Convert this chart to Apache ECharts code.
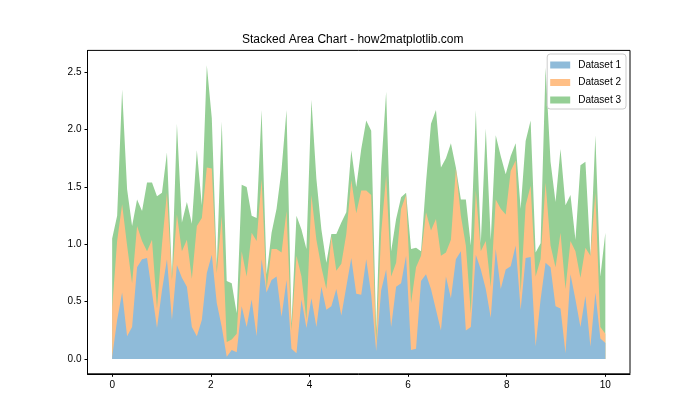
<!DOCTYPE html>
<html>
<head>
    <meta charset="utf-8">
    <title>Stacked Area Chart</title>
    <script src="https://cdn.jsdelivr.net/npm/echarts@6/dist/echarts.min.js"></script>
    <style>
        html, body { margin: 0; padding: 0; background: #fff; }
    </style>
</head>
<body>
    <div id="main" style="width:700px;height:420px"></div>
    <script type="text/javascript">
// x: 100 samples on 0..10 (np.linspace)
var xValues = Array.from({ length: 100 }, function (_, i) { return i * 10 / 99; });

var dataset1 = [
    0.02, 0.34, 0.58, 0.20, 0.28, 0.80, 0.87, 0.88, 0.58, 0.27,
    0.60, 0.87, 0.34, 0.82, 0.71, 0.63, 0.28, 0.20, 0.34, 0.75,
    0.91, 0.49, 0.28, 0.02, 0.08, 0.06, 0.46, 0.28, 0.52, 0.20,
    0.87, 0.58, 0.69, 0.72, 0.37, 0.69, 0.09, 0.05, 0.52, 0.27,
    0.53, 0.28, 0.63, 0.43, 0.46, 0.61, 0.38, 0.63, 0.88, 0.57,
    0.56, 0.87, 0.56, 0.07, 0.60, 0.78, 0.28, 0.63, 0.66, 0.90,
    0.08, 0.09, 0.68, 0.74, 0.61, 0.43, 0.25, 0.72, 0.53, 0.87,
    0.94, 0.25, 0.28, 0.91, 0.78, 0.61, 0.36, 0.96, 0.61, 0.78,
    0.81, 0.99, 0.43, 0.88, 0.89, 0.11, 0.52, 0.84, 0.80, 0.46,
    0.44, 0.05, 0.74, 0.52, 0.28, 0.55, 0.11, 0.58, 0.18, 0.14
];
var dataset2 = [
    0.43, 0.69, 0.77, 0.79, 0.38, 0.36, 0.16, 0.06, 0.46, 0.17,
    0.40, 0.58, 0.35, 0.44, 0.23, 0.41, 0.42, 0.96, 0.89, 0.92,
    0.75, 0.26, 0.97, 0.13, 0.09, 0.16, 0.48, 0.44, 0.58, 0.83,
    0.70, 0.03, 0.27, 0.24, 0.56, 0.60, 0.16, 0.85, 0.20, 0.07,
    0.90, 0.76, 0.17, 0.18, 0.61, 0.16, 0.45, 0.46, 0.68, 0.70,
    0.91, 0.60, 0.87, 0.07, 0.50, 0.82, 0.44, 0.21, 0.65, 0.53,
    0.41, 0.71, 0.22, 0.54, 0.51, 0.79, 0.65, 0.21, 0.51, 0.79,
    0.31, 0.74, 0.12, 0.56, 0.16, 0.42, 0.27, 0.43, 0.70, 0.48,
    0.83, 0.74, 0.15, 0.46, 0.62, 0.61, 0.35, 0.70, 0.19, 0.34,
    0.66, 0.56, 0.29, 0.42, 0.43, 0.42, 0.79, 0.87, 0.10, 0.08
];
var dataset3 = [
    0.60, 0.22, 1.00, 0.49, 0.50, 0.23, 0.26, 0.60, 0.50, 0.98,
    0.45, 0.35, 0.03, 0.79, 0.25, 0.33, 0.48, 0.66, 0.11, 0.89,
    0.44, 0.06, 0.82, 0.53, 0.49, 0.18, 0.58, 0.78, 0.15, 0.20,
    0.60, 0.13, 0.14, 0.35, 0.72, 0.88, 0.06, 0.35, 0.41, 0.62,
    0.83, 0.53, 0.33, 0.23, 0.02, 0.32, 0.36, 0.19, 0.26, 0.23,
    0.36, 0.61, 0.56, 0.11, 0.56, 0.73, 0.22, 0.38, 0.10, 0.02,
    0.47, 0.17, 0.04, 0.26, 0.93, 0.95, 0.77, 0.82, 0.84, 0.01,
    0.14, 0.40, 0.59, 0.70, 0.07, 0.98, 0.41, 0.56, 0.46, 0.35,
    0.13, 0.15, 0.73, 0.56, 0.57, 0.21, 0.14, 1.00, 0.73, 0.57,
    0.73, 0.73, 0.40, 0.10, 0.98, 0.75, 0.00, 0.50, 0.44, 0.88
];

var seriesNames = ['Dataset 1', 'Dataset 2', 'Dataset 3'];
var xTicks = [0, 2, 4, 6, 8, 10];
var yTicks = [0, 0.5, 1.0, 1.5, 2.0, 2.5];

// tab10 colours at alpha 0.5 on white
var colors = ['#8fbbd9', '#ffbf86', '#95cf95'];
var font = 'Liberation Sans';

// stack by hand: each layer's top edge = running sum, drawn from the top layer down
var layers = [dataset1, dataset2, dataset3];
var tops = [];
var running = xValues.map(function () { return 0; });
layers.forEach(function (values) {
    running = running.map(function (r, i) { return r + values[i]; });
    tops.push(running.slice());
});

function areaSeries(name, cum, color) {
    return {
        name: name,
        type: 'line',
        data: cum.map(function (v, i) { return [xValues[i], v]; }),
        symbol: 'none',
        showSymbol: false,
        lineStyle: { width: 0, color: color },
        itemStyle: { color: color },
        areaStyle: { color: color, opacity: 1 },
        emphasis: { disabled: true }
    };
}

var myChart = echarts.init(document.getElementById('main'), null, { renderer: 'canvas' });

myChart.setOption({
    animation: false,
    backgroundColor: '#fff',
    color: colors,
    title: {
        text: 'Stacked Area Chart - how2matplotlib.com',
        left: 242,
        top: 34,
        padding: 0,
        textStyle: { fontFamily: font, fontSize: 12, fontWeight: 'normal', color: '#000' }
    },
    legend: {
        data: seriesNames,
        orient: 'vertical',
        right: 74,
        top: 54,
        icon: 'rect',
        itemWidth: 20,
        itemHeight: 7,
        itemGap: 7.5,
        padding: [6, 5, 4, 3],
        borderColor: '#cccccc',
        borderWidth: 1,
        borderRadius: 3,
        backgroundColor: 'rgba(255,255,255,0.8)',
        itemStyle: { borderWidth: 0 },
        textStyle: { fontFamily: font, fontSize: 10, color: '#000', padding: [0, 0, 0, 3] }
    },
    grid: {
        left: 87.5,
        right: 70,
        top: 50.4,
        bottom: 46.2,
        show: true,
        borderColor: '#000',
        borderWidth: 1,
        backgroundColor: 'transparent'
    },
    xAxis: {
        type: 'value',
        min: -0.5,
        max: 10.5,
        axisLine: { show: true, onZero: false, lineStyle: { color: '#000', width: 1 } },
        axisTick: { show: true, length: 3, lineStyle: { color: '#000' }, customValues: xTicks },
        axisLabel: {
            customValues: xTicks,
            margin: 6,
            fontFamily: font,
            fontSize: 10,
            color: '#000',
            formatter: function (v) { return String(v); }
        },
        splitLine: { show: false }
    },
    yAxis: {
        type: 'value',
        min: -0.128,
        max: 2.69,
        axisLine: { show: true, onZero: false, lineStyle: { color: '#000', width: 1 } },
        axisTick: { show: true, length: 3, lineStyle: { color: '#000' }, customValues: yTicks },
        axisLabel: {
            customValues: yTicks,
            margin: 6,
            fontFamily: font,
            fontSize: 10,
            color: '#000',
            formatter: function (v) { return v.toFixed(1); }
        },
        splitLine: { show: false }
    },
    // top layer first so the lower layers paint over it
    series: [
        areaSeries(seriesNames[2], tops[2], colors[2]),
        areaSeries(seriesNames[1], tops[1], colors[1]),
        areaSeries(seriesNames[0], tops[0], colors[0])
    ]
});
    </script>
</body>
</html>
